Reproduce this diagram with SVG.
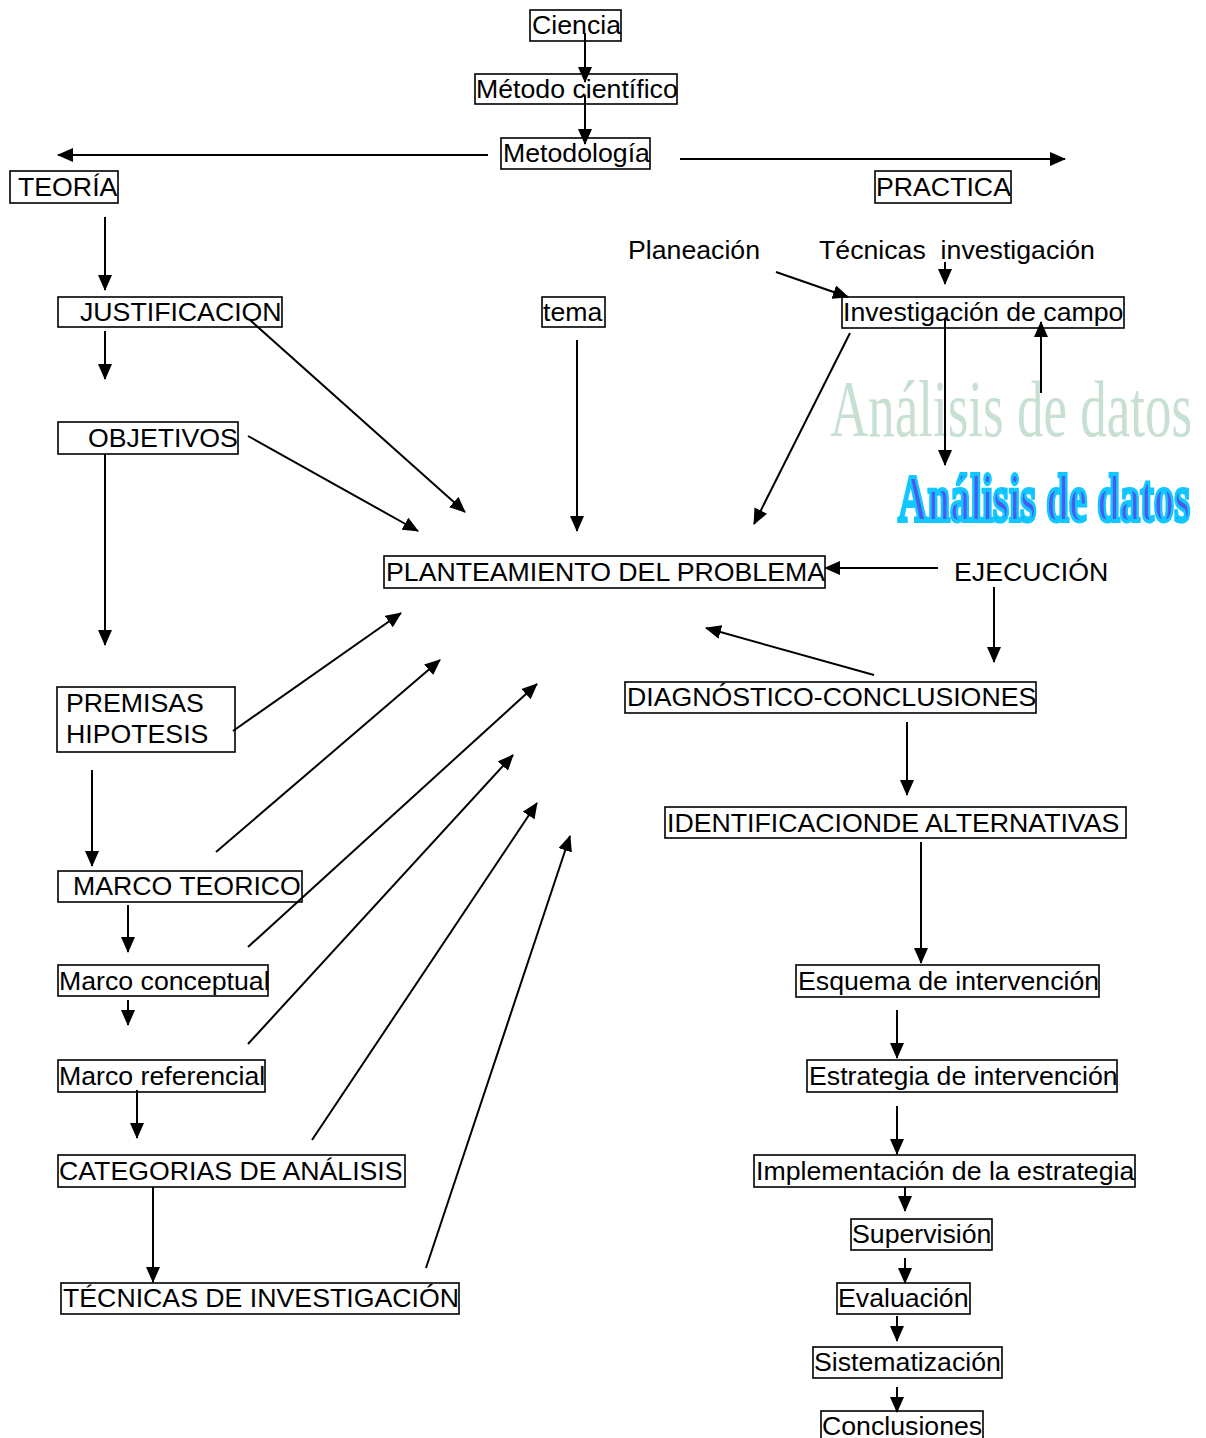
<svg xmlns="http://www.w3.org/2000/svg" width="1206" height="1438" viewBox="0 0 1206 1438">
<style>
.b{fill:none;stroke:#000;stroke-width:1.6}
.t{font-family:"Liberation Sans",Arial,sans-serif;font-size:26.7px;fill:#000}
.c{fill:none;stroke:#000;stroke-width:2;marker-end:url(#ah)}
</style>
<defs>
<marker id="ah" markerUnits="userSpaceOnUse" markerWidth="16" markerHeight="14" refX="15" refY="7" orient="auto"><path d="M0,0 L16,7 L0,14 z" fill="#000"/></marker>
</defs>
<rect width="1206" height="1438" fill="#fff"/>
<g id="n-ciencia"><rect class="b" x="530" y="10" width="91" height="31"/><text class="t" x="532" y="34">Ciencia</text></g>
<g id="n-metodo"><rect class="b" x="475" y="74" width="202" height="30"/><text class="t" x="476" y="98">Método científico</text></g>
<g id="n-metodologia"><rect class="b" x="501" y="138" width="149" height="31"/><text class="t" x="503" y="162">Metodología</text></g>
<g id="n-teoria"><rect class="b" x="10" y="171" width="108" height="32"/><text class="t" x="18" y="196">TEORÍA</text></g>
<g id="n-practica"><rect class="b" x="875" y="171" width="136" height="32"/><text class="t" x="876" y="196">PRACTICA</text></g>
<g id="n-justificacion"><rect class="b" x="58" y="297" width="224" height="30"/><text class="t" x="80" y="321">JUSTIFICACION</text></g>
<g id="n-tema"><rect class="b" x="542" y="297" width="63" height="30"/><text class="t" x="543" y="321">tema</text></g>
<g id="n-planeacion"><text class="t" x="628" y="259">Planeación</text></g>
<g id="n-tecnicas"><text class="t" x="819" y="259" xml:space="preserve">Técnicas  investigación</text></g>
<g id="n-campo"><rect class="b" x="842" y="297" width="282" height="31"/><text class="t" x="843" y="321">Investigación de campo</text></g>
<g id="n-analisis-light"><text x="830" y="436" textLength="362" lengthAdjust="spacingAndGlyphs" style="font-family:'Liberation Serif','Times New Roman',serif;font-size:80px;fill:#c8e0d2">Análisis de datos</text></g>
<g id="n-analisis-blue">
<text x="898" y="521" textLength="292" lengthAdjust="spacingAndGlyphs" style="font-family:'Liberation Serif','Times New Roman',serif;font-size:68px;font-weight:bold;fill:#4a5cf0;stroke:#10c8ff;stroke-width:4">Análisis de datos</text>
</g>
<g id="n-objetivos"><rect class="b" x="58" y="422" width="180" height="32"/><text class="t" x="88" y="447">OBJETIVOS</text></g>
<g id="n-planteamiento"><rect class="b" x="384" y="556" width="441" height="32"/><text class="t" x="386" y="581">PLANTEAMIENTO DEL PROBLEMA</text></g>
<g id="n-ejecucion"><text class="t" x="954" y="581">EJECUCIÓN</text></g>
<g id="n-premisas"><rect class="b" x="57" y="687" width="178" height="65"/><text class="t" x="66" y="712">PREMISAS</text><text class="t" x="66" y="743">HIPOTESIS</text></g>
<g id="n-diagnostico"><rect class="b" x="625" y="682" width="411" height="31"/><text class="t" x="627" y="706">DIAGNÓSTICO-CONCLUSIONES</text></g>
<g id="n-identificacion"><rect class="b" x="665" y="807" width="461" height="31"/><text class="t" x="667" y="832">IDENTIFICACIONDE ALTERNATIVAS</text></g>
<g id="n-marco-teorico"><rect class="b" x="58" y="871" width="244" height="31"/><text class="t" x="73" y="895">MARCO TEORICO</text></g>
<g id="n-marco-conceptual"><rect class="b" x="58" y="965" width="210" height="31"/><text class="t" x="59" y="990">Marco conceptual</text></g>
<g id="n-esquema"><rect class="b" x="796" y="965" width="303" height="32"/><text class="t" x="798" y="990">Esquema de intervención</text></g>
<g id="n-marco-referencial"><rect class="b" x="58" y="1060" width="207" height="32"/><text class="t" x="59" y="1085">Marco referencial</text></g>
<g id="n-estrategia"><rect class="b" x="807" y="1060" width="310" height="32"/><text class="t" x="809" y="1085">Estrategia de intervención</text></g>
<g id="n-categorias"><rect class="b" x="58" y="1155" width="347" height="32"/><text class="t" x="59" y="1180">CATEGORIAS DE ANÁLISIS</text></g>
<g id="n-implementacion"><rect class="b" x="754" y="1155" width="381" height="32"/><text class="t" x="756" y="1180">Implementación de la estrategia</text></g>
<g id="n-supervision"><rect class="b" x="851" y="1219" width="141" height="31"/><text class="t" x="852" y="1243">Supervisión</text></g>
<g id="n-tecnicas-inv"><rect class="b" x="61" y="1283" width="398" height="31"/><text class="t" x="63" y="1307">TÉCNICAS DE INVESTIGACIÓN</text></g>
<g id="n-evaluacion"><rect class="b" x="837" y="1283" width="133" height="31"/><text class="t" x="838" y="1307">Evaluación</text></g>
<g id="n-sistematizacion"><rect class="b" x="813" y="1347" width="189" height="31"/><text class="t" x="814" y="1371">Sistematización</text></g>
<g id="n-conclusiones"><rect class="b" x="821" y="1411" width="162" height="32"/><text class="t" x="822" y="1435">Conclusiones</text></g>
<g id="connectors">
<path class="c" d="M585,33 L585,82"/>
<path class="c" d="M585,95 L585,144"/>
<path class="c" d="M488,155 L58,155"/>
<path class="c" d="M680,159 L1065,159"/>
<path class="c" d="M105,217 L105,290"/>
<path class="c" d="M105,331 L105,379"/>
<path class="c" d="M250,320 L465,512"/>
<path class="c" d="M248,436 L418,531"/>
<path class="c" d="M577,340 L577,531"/>
<path class="c" d="M776,272 L848,297"/>
<path class="c" d="M945,262 L945,284"/>
<path class="c" d="M945,318 L945,465"/>
<path class="c" d="M1041,393 L1041,322"/>
<path class="c" d="M850,333 L754,524"/>
<path class="c" d="M938,568 L825,568"/>
<path class="c" d="M994,587 L994,662"/>
<path class="c" d="M874,675 L706,628"/>
<path class="c" d="M907,722 L907,795"/>
<path class="c" d="M921,842 L921,963"/>
<path class="c" d="M897,1010 L897,1058"/>
<path class="c" d="M897,1106 L897,1154"/>
<path class="c" d="M905,1187 L905,1211"/>
<path class="c" d="M905,1258 L905,1283"/>
<path class="c" d="M897,1316 L897,1341"/>
<path class="c" d="M897,1387 L897,1412"/>
<path class="c" d="M105,454 L105,645"/>
<path class="c" d="M233,731 L401,613"/>
<path class="c" d="M92,770 L92,866"/>
<path class="c" d="M216,852 L440,660"/>
<path class="c" d="M128,905 L128,952"/>
<path class="c" d="M248,947 L537,684"/>
<path class="c" d="M128,1000 L128,1025"/>
<path class="c" d="M248,1044 L513,755"/>
<path class="c" d="M137,1090 L137,1138"/>
<path class="c" d="M312,1140 L537,803"/>
<path class="c" d="M153,1187 L153,1282"/>
<path class="c" d="M426,1268 L570,836"/>
</g>
</svg>
